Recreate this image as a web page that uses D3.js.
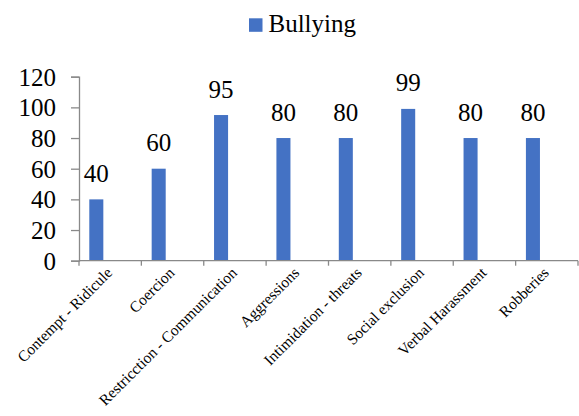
<!DOCTYPE html>
<html>
<head>
<meta charset="utf-8">
<script src="https://cdn.jsdelivr.net/npm/d3@7/dist/d3.min.js"></script>
</head>
<body style="margin:0;padding:0;background:#fff">
<svg id="chart" width="579" height="416" style="display:block"></svg>
<script>
// Bullying types and their counts
const categories = [
  "Contempt - Ridicule",
  "Coercion",
  "Restricction - Communication",
  "Aggressions",
  "Intimidation - threats",
  "Social exclusion",
  "Verbal Harassment",
  "Robberies"
];
const seriesName = "Bullying";
const values = [40, 60, 95, 80, 80, 99, 80, 80];
const yTicks = [0, 20, 40, 60, 80, 100, 120];

const svg = d3.select("#chart");
const blue = "#4472C4";
const axisGray = "#898989";

const plot = { left: 79, right: 578, top: 76.7, bottom: 260.7 };

const x = d3.scaleBand()
  .domain(categories)
  .range([plot.left, plot.right])
  .padding(0);

const y = d3.scaleLinear()
  .domain([0, 120])
  .range([plot.bottom, plot.top]);

// bar occupies the first of three slots inside each category band
const barOffset = x.bandwidth() * 0.165;
const barWidth = x.bandwidth() * 0.225;

// bars
svg.append("g")
  .selectAll("rect")
  .data(values)
  .join("rect")
  .attr("x", (d, i) => x(categories[i]) + barOffset)
  .attr("y", d => y(d))
  .attr("width", barWidth)
  .attr("height", d => y(0) - y(d))
  .attr("fill", blue);

// value labels
svg.append("g")
  .selectAll("text")
  .data(values)
  .join("text")
  .attr("x", (d, i) => x(categories[i]) + barOffset + barWidth / 2)
  .attr("y", d => y(d) - 17.5)
  .attr("text-anchor", "middle")
  .attr("font-size", 25)
  .style("font-family", "Times New Roman")
  .attr("fill", "#000")
  .text(d => d);

// y axis
const yAxis = svg.append("g")
  .attr("transform", `translate(${plot.left},0)`)
  .call(d3.axisLeft(y).tickValues(yTicks).tickSize(8).tickPadding(15))
  .attr("font-size", 25);
yAxis.select(".domain").attr("stroke", axisGray).attr("stroke-width", 1.3);
yAxis.selectAll(".tick line").attr("stroke", axisGray).attr("stroke-width", 1.3);
yAxis.selectAll(".tick text")
  .style("font-family", "Times New Roman")
  .attr("fill", "#000")
  .attr("dy", "0.34em");

// x axis line and category boundary ticks
const xAxisG = svg.append("g");
xAxisG.append("line")
  .attr("x1", plot.left).attr("x2", plot.right)
  .attr("y1", y(0)).attr("y2", y(0))
  .attr("stroke", axisGray).attr("stroke-width", 1.3);
const boundaries = categories.map(c => x(c)).concat([x(categories[categories.length - 1]) + x.bandwidth()]);
xAxisG.selectAll("line.tick")
  .data(boundaries)
  .join("line")
  .attr("class", "tick")
  .attr("x1", d => d).attr("x2", d => d)
  .attr("y1", y(0)).attr("y2", y(0) + 5)
  .attr("stroke", axisGray).attr("stroke-width", 1.3);

// rotated category labels
svg.append("g")
  .selectAll("text")
  .data(categories)
  .join("text")
  .attr("transform", d => `translate(${x(d) + x.bandwidth() / 2 + 3},${y(0) + 13}) rotate(-45)`)
  .attr("text-anchor", "end")
  .attr("font-size", 15.5)
  .style("font-family", "Times New Roman")
  .attr("fill", "#000")
  .text(d => d);

// legend
const legend = svg.append("g");
legend.append("rect")
  .attr("x", 249).attr("y", 18.3)
  .attr("width", 13.5).attr("height", 13.5)
  .attr("fill", blue);
legend.append("text")
  .attr("x", 268.5).attr("y", 32.3)
  .attr("font-size", 25)
  .style("font-family", "Times New Roman")
  .attr("fill", "#000")
  .text(seriesName);
</script>
</body>
</html>
